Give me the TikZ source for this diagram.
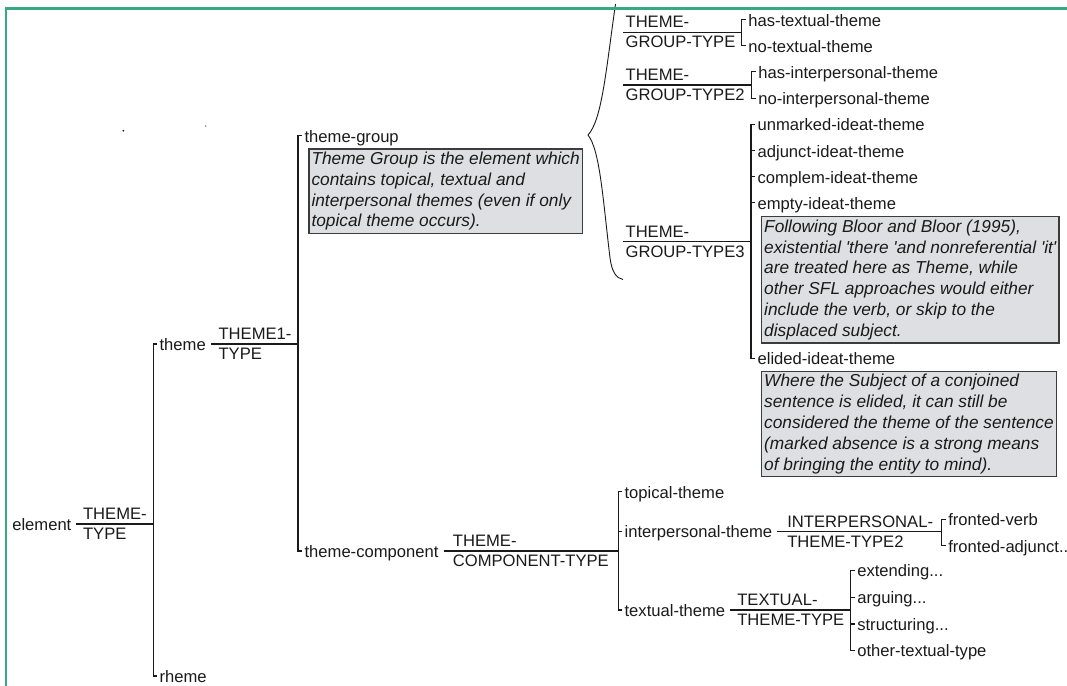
\documentclass[tikz,border=0pt]{standalone}
\usepackage{fontspec}
\setmainfont{Liberation Sans}
\usepackage{tikz}
\definecolor{ink}{HTML}{1A1A1A}
\definecolor{boxfill}{HTML}{DEDFE3}
\definecolor{boxline}{HTML}{3C3C3C}
\definecolor{framegreen}{HTML}{36A884}
\begin{document}
\begin{tikzpicture}[x = 1pt, y = -1pt, line width = 1.2pt,
                    lbl/.style = {anchor = west, inner xsep = 2pt, inner ysep = 0pt, text height = 13pt, text depth = 0pt, text = ink, font = \fontsize{16.6}{20}\selectfont},
                    typ/.style = {anchor = west, align = left, inner xsep = 2pt, inner ysep = 0pt, text = ink, font = \fontsize{16.6}{20}\selectfont},
                    note/.style = {anchor = north west, draw = boxline, fill = boxfill, line width = 1.4pt, align = left, inner xsep = 2.5pt, inner ysep = 3pt, text = ink, font = \fontsize{17.3}{20.8}\selectfont\itshape},
                    link/.style = {draw = ink, line width = 1.2pt},
                    stem/.style = {link, shorten <= 2.5pt}]
  \useasboundingbox (0,0) rectangle (1067,685);
  \fill [ink] (123.3,130.7) circle (1pt);
  \fill [gray] (205.7,126) circle (0.8pt);

  \node [lbl] (E) at (9.7,524) {element};
  \node [typ] (ET) at (80.5,524) {THEME-\\TYPE};
  \coordinate (EJ) at (153.3,524);
  \node [lbl] (Th) at (157,344) {theme};
  \node [lbl] (Rh) at (157,676) {rheme};
  \node [typ] (ThT) at (216,344) {THEME1-\\TYPE};
  \coordinate (ThJ) at (298,344);
  \node [lbl] (TG) at (302,135.5) {theme-group};
  \node [note] (TGn) at (308.3,148.3) {Theme Group is the element which\\contains topical, textual and\\interpersonal themes (even if only\\topical theme occurs).};
  \node [lbl] (TC) at (302,551) {theme-component};
  \node [typ] (TCT) at (450.3,551) {THEME-\\COMPONENT-TYPE};
  \coordinate (TCJ) at (618.3,551);
  \node [lbl] (Top) at (622,491.7) {topical-theme};
  \node [lbl] (Ip) at (622,531.3) {interpersonal-theme};
  \node [typ] (IpT) at (784.7,531.3) {INTERPERSONAL-\\THEME-TYPE2};
  \coordinate (IpJ) at (941.7,531.3);
  \node [lbl] (FV) at (945.7,519.3) {fronted-verb};
  \node [lbl] (FA) at (945.7,545.7) {fronted-adjunct...};
  \node [lbl] (Tx) at (622,610) {textual-theme};
  \node [typ] (TxT) at (734.7,610) {TEXTUAL-\\THEME-TYPE};
  \coordinate (TxJ) at (850.7,610);
  \node [lbl] (Ext) at (854.7,570.3) {extending...};
  \node [lbl] (Arg) at (854.7,597.3) {arguing...};
  \node [lbl] (Str) at (854.7,624) {structuring...};
  \node [lbl] (Oth) at (854.7,650.3) {other-textual-type};

  \node [typ] (G1) at (623,32.3) {THEME-\\GROUP-TYPE};
  \coordinate (G1J) at (741.7,32.3);
  \node [lbl] (HT) at (745.7,19.7) {has-textual-theme};
  \node [lbl] (NT) at (745.7,45.7) {no-textual-theme};
  \node [typ] (G2) at (623,85) {THEME-\\GROUP-TYPE2};
  \coordinate (G2J) at (751.7,85);
  \node [lbl] (HI) at (755.7,71.7) {has-interpersonal-theme};
  \node [lbl] (NI) at (755.7,98.3) {no-interpersonal-theme};
  \node [typ] (G3) at (623,241.7) {THEME-\\GROUP-TYPE3};
  \coordinate (G3J) at (751,241.7);
  \node [lbl] (Un) at (755,124.3) {unmarked-ideat-theme};
  \node [lbl] (Ad) at (755,150.7) {adjunct-ideat-theme};
  \node [lbl] (Co) at (755,176.7) {complem-ideat-theme};
  \node [lbl] (Em) at (755,202.7) {empty-ideat-theme};
  \node [note] (Emn) at (761,216) {Following Bloor and Bloor (1995),\\existential \textquotesingle there \textquotesingle and nonreferential \textquotesingle it\textquotesingle\\are treated here as Theme, while\\other SFL approaches would either\\include the verb, or skip to the\\displaced subject.};
  \node [lbl] (El) at (755,358.3) {elided-ideat-theme};
  \node [note] (Eln) at (761,370.7) {Where the Subject of a conjoined\\sentence is elided, it can still be\\considered the theme of the sentence\\(marked absence is a strong means\\of bringing the entity to mind).};

  \draw [stem] (E.east) -- (EJ);
  \draw [link] (EJ) |- (Th.west);
  \draw [link] (EJ) |- (Rh.west);
  \draw [stem] (Th.east) -- (ThJ);
  \draw [link] (ThJ) |- (TG.west);
  \draw [link] (ThJ) |- (TC.west);
  \draw [stem] (TC.east) -- (TCJ);
  \draw [link] (TCJ) |- (Top.west);
  \draw [link] (TCJ) |- (Ip.west);
  \draw [link] (TCJ) |- (Tx.west);
  \draw [stem] (Ip.east) -- (IpJ);
  \draw [link] (IpJ) |- (FV.west);
  \draw [link] (IpJ) |- (FA.west);
  \draw [stem] (Tx.east) -- (TxJ);
  \draw [link] (TxJ) |- (Ext.west);
  \draw [link] (TxJ) |- (Arg.west);
  \draw [link] (TxJ) |- (Str.west);
  \draw [link] (TxJ) |- (Oth.west);
  \draw [link] (G1.west) -- (G1J);
  \draw [link] (G1J) |- (HT.west);
  \draw [link] (G1J) |- (NT.west);
  \draw [link] (G2.west) -- (G2J);
  \draw [link] (G2J) |- (HI.west);
  \draw [link] (G2J) |- (NI.west);
  \draw [link] (G3.west) -- (G3J);
  \draw [link] (G3J) |- (Un.west);
  \draw [link] (G3J) |- (Ad.west);
  \draw [link] (G3J) |- (Co.west);
  \draw [link] (G3J) |- (Em.west);
  \draw [link] (G3J) |- (El.west);
  \draw [link, line width = 0.9pt] (615.5,4) .. controls (606,70) and (602,120) .. (588,135) .. controls (600,150) and (603,200) .. (610,258) .. controls (612,272) and (616,278) .. (623,279.5);

  \draw [framegreen, line width = 2.6pt] (6,700) -- (6,8.3) -- (1080,8.3);
\end{tikzpicture}
\end{document}
